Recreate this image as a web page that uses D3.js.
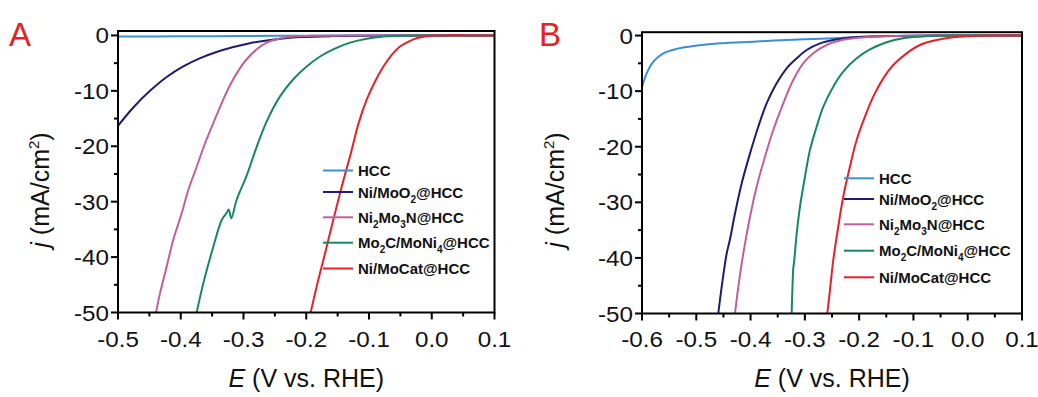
<!DOCTYPE html>
<html><head><meta charset="utf-8">
<script src="https://cdn.jsdelivr.net/npm/d3@7"></script>
<style>body{margin:0;background:#fff}svg{display:block}text{font-family:"Liberation Sans",Arial,sans-serif}</style>
</head><body><div id="chart"></div>
<script>
// ---------- data (E in V vs RHE, j in mA/cm2) ----------
const seriesNames = ["HCC","Ni/MoO2@HCC","Ni2Mo3N@HCC","Mo2C/MoNi4@HCC","Ni/MoCat@HCC"];
const seriesColors = ["#3b8fd2","#1c1c72","#c0609a","#16885c","#e42228"];
const xTicksA = [-0.5,-0.4,-0.3,-0.2,-0.1,0.0,0.1];
const xTicksB = [-0.6,-0.5,-0.4,-0.3,-0.2,-0.1,0.0,0.1];
const yTicks = [0,-10,-20,-30,-40,-50];

// Panel A
const aHCC = [[-0.5,-0.2],[-0.4,-0.15],[-0.3,-0.1],[-0.2,-0.05],[-0.1,-0.02],[0.0,0],[0.1,0]];
const aNiMoO2 = [[-0.5,-16.3],[-0.4756,-13.0],[-0.449,-10.0],[-0.4224,-7.5],[-0.396,-5.6],[-0.369,-4.1],[-0.343,-3.0],[-0.316,-2.1],[-0.29,-1.4],[-0.263,-0.9],[-0.237,-0.55],[-0.21,-0.3],[-0.158,-0.12],[-0.1,-0.04],[0.0,0],[0.1,0]];
const aNi2Mo3N = [[-0.4394,-50],[-0.433,-46.5],[-0.4224,-41.7],[-0.412,-36.9],[-0.3985,-32.1],[-0.388,-27.9],[-0.3746,-23.7],[-0.3614,-19.5],[-0.348,-15.8],[-0.3347,-12.2],[-0.3215,-9.0],[-0.3083,-6.4],[-0.295,-4.3],[-0.279,-2.5],[-0.263,-1.3],[-0.242,-0.55],[-0.2206,-0.2],[-0.18,-0.05],[-0.1,0],[0.1,0]];
const aMo2C = [[-0.3746,-50],[-0.364,-44.7],[-0.348,-38.1],[-0.3347,-33.3],[-0.3268,-32.0],[-0.3235,-31.4],[-0.3195,-33.0],[-0.311,-29.7],[-0.295,-25.3],[-0.279,-20.1],[-0.263,-15.5],[-0.2418,-11.0],[-0.2206,-7.9],[-0.1993,-5.6],[-0.178,-3.8],[-0.157,-2.5],[-0.130,-1.3],[-0.1037,-0.6],[-0.077,-0.2],[-0.05,-0.05],[0.0,0],[0.1,0]];
const aNiMoCat = [[-0.193,-50],[-0.1834,-45.3],[-0.170,-39.3],[-0.157,-33.3],[-0.1435,-27.3],[-0.129,-21.3],[-0.117,-16.0],[-0.1037,-11.6],[-0.0904,-8.3],[-0.077,-5.6],[-0.0638,-3.5],[-0.0506,-2.0],[-0.037,-1.1],[-0.024,-0.5],[-0.008,-0.15],[0.005,0],[0.1,0]];

// Panel B
const bHCC = [[-0.6,-9.3],[-0.5914,-6.8],[-0.579,-4.7],[-0.5608,-3.2],[-0.536,-2.4],[-0.5055,-1.9],[-0.456,-1.4],[-0.395,-1.1],[-0.3335,-0.8],[-0.272,-0.6],[-0.21,-0.3],[-0.15,-0.1],[-0.05,0],[0.1,0]];
const bNiMoO2 = [[-0.4595,-50],[-0.4532,-45.2],[-0.444,-39.2],[-0.438,-36.7],[-0.4287,-32.0],[-0.4164,-26.6],[-0.401,-21.2],[-0.3858,-16.4],[-0.3704,-12.2],[-0.352,-8.6],[-0.3335,-5.9],[-0.315,-4.1],[-0.2967,-2.6],[-0.272,-1.4],[-0.2414,-0.7],[-0.21,-0.3],[-0.15,-0.1],[-0.05,0],[0.1,0]];
const bNi2Mo3N = [[-0.4287,-50],[-0.4226,-45.2],[-0.4134,-39.2],[-0.401,-32.6],[-0.3888,-27.2],[-0.3735,-21.8],[-0.3582,-17.0],[-0.3398,-12.2],[-0.3214,-8.0],[-0.303,-5.0],[-0.2845,-3.2],[-0.26,-1.7],[-0.2354,-0.9],[-0.211,-0.5],[-0.18,-0.2],[-0.12,-0.05],[0.0,0],[0.1,0]];
const bMo2C = [[-0.3243,-50],[-0.3232,-46.4],[-0.3214,-42.0],[-0.3205,-41.2],[-0.3196,-40.5],[-0.315,-35.6],[-0.309,-30.8],[-0.2998,-25.4],[-0.2906,-20.6],[-0.2783,-16.4],[-0.266,-12.8],[-0.2477,-9.2],[-0.2293,-6.5],[-0.2046,-4.1],[-0.180,-2.5],[-0.1494,-1.2],[-0.1188,-0.5],[-0.088,-0.2],[-0.058,-0.05],[0.0,0],[0.1,0]];
const bNiMoCat = [[-0.2587,-50],[-0.2538,-45.8],[-0.2477,-40.4],[-0.2385,-34.4],[-0.2293,-29.0],[-0.217,-23.6],[-0.2046,-18.8],[-0.1893,-14.6],[-0.174,-11.0],[-0.1556,-7.7],[-0.1372,-5.3],[-0.1126,-3.2],[-0.088,-1.7],[-0.0573,-0.8],[-0.0267,-0.3],[0.004,-0.1],[0.05,0],[0.1,0]];

const seriesA = [aHCC,aNiMoO2,aNi2Mo3N,aMo2C,aNiMoCat];
const seriesB = [bHCC,bNiMoO2,bNi2Mo3N,bMo2C,bNiMoCat];

// ---------- drawing ----------
const W = 1038, H = 397;
const svg = d3.select("#chart").append("svg").attr("width", W).attr("height", H);

const panels = [
  {id:"A", label:"A", labelX:9, data:seriesA, xDomain:[-0.5,0.1], xTicks:xTicksA, yDomain:[-50,0.8],
   left:118, right:494.5, top:31, bottom:312.5, yTitleX:49, legX:323, legRows:[170.5,192,217.3,242.7,268.5]},
  {id:"B", label:"B", labelX:539, data:seriesB, xDomain:[-0.6,0.1], xTicks:xTicksB, yDomain:[-50,0.6],
   left:642, right:1022, top:32.2, bottom:313.5, yTitleX:564, legX:844, legRows:[178.3,199,224.3,250.7,277.3]}
];

function fmtX(v){ return (v<0?"-":"") + Math.abs(v).toFixed(1); }

function stretchedText(g, x, y, str, anchor, size, sx){
  const gg = g.append("g").attr("transform", `translate(${x},${y})`);
  gg.append("text").attr("transform", `scale(${sx},1)`)
    .attr("text-anchor", anchor).attr("font-size", size).attr("fill","#111").text(str);
  return gg;
}

function subLabel(textSel, name){
  const parts = name.match(/[A-Za-z@\/]+|\d/g);
  let inSub = false;
  parts.forEach(p=>{
    if (/^\d$/.test(p)) {
      textSel.append("tspan").attr("font-size", 10).attr("dy", 5).text(p);
      inSub = true;
    } else {
      textSel.append("tspan").attr("dy", inSub ? -5 : 0).text(p);
      inSub = false;
    }
  });
}

panels.forEach(P=>{
  const x = d3.scaleLinear().domain(P.xDomain).range([P.left, P.right]);
  const y = d3.scaleLinear().domain(P.yDomain).range([P.bottom, P.top]);
  const g = svg.append("g");

  const clipId = "clip"+P.id;
  svg.append("clipPath").attr("id", clipId).append("rect")
    .attr("x", P.left).attr("y", P.top).attr("width", P.right-P.left).attr("height", P.bottom-P.top);

  const line = d3.line().x(d=>x(d[0])).y(d=>y(d[1])).curve(d3.curveCatmullRom.alpha(0.5));
  g.append("g").attr("clip-path", `url(#${clipId})`).selectAll("path").data(P.data).join("path")
    .attr("d", line).attr("fill","none")
    .attr("stroke", (d,i)=>seriesColors[i]).attr("stroke-width", 2).attr("stroke-linejoin","round");

  g.append("rect").attr("x", P.left).attr("y", P.top).attr("width", P.right-P.left).attr("height", P.bottom-P.top)
    .attr("fill","none").attr("stroke","#000").attr("stroke-width", 2);

  const xMinor = [];
  for (let i=0;i<P.xTicks.length-1;i++) xMinor.push((P.xTicks[i]+P.xTicks[i+1])/2);
  g.selectAll(".xmaj").data(P.xTicks).join("line")
    .attr("x1", d=>x(d)).attr("x2", d=>x(d)).attr("y1", P.bottom).attr("y2", P.bottom+7)
    .attr("stroke","#000").attr("stroke-width",2);
  g.selectAll(".xmin").data(xMinor).join("line")
    .attr("x1", d=>x(d)).attr("x2", d=>x(d)).attr("y1", P.bottom).attr("y2", P.bottom+4)
    .attr("stroke","#000").attr("stroke-width",2);
  P.xTicks.forEach(t=> stretchedText(g, x(t), 347, fmtX(t), "middle", 22, 1.1));

  const yMinor = [];
  for (let i=0;i<yTicks.length-1;i++) yMinor.push((yTicks[i]+yTicks[i+1])/2);
  g.selectAll(".ymaj").data(yTicks).join("line")
    .attr("x1", P.left-7).attr("x2", P.left).attr("y1", d=>y(d)).attr("y2", d=>y(d))
    .attr("stroke","#000").attr("stroke-width",2);
  g.selectAll(".ymin").data(yMinor).join("line")
    .attr("x1", P.left-4).attr("x2", P.left).attr("y1", d=>y(d)).attr("y2", d=>y(d))
    .attr("stroke","#000").attr("stroke-width",2);
  yTicks.forEach(t=> stretchedText(g, P.left-9, y(t)+8, String(t), "end", 22, 1.1));

  const xt = g.append("text").attr("x", (P.left+P.right)/2).attr("y", 387).attr("text-anchor","middle")
    .attr("font-size", 25).attr("fill","#111");
  xt.append("tspan").attr("font-style","italic").text("E");
  xt.append("tspan").text(" (V vs. RHE)");

  const yt = g.append("text").attr("transform", `translate(${P.yTitleX},190) rotate(-90)`)
    .attr("text-anchor","middle").attr("font-size", 25).attr("fill","#111");
  yt.append("tspan").attr("font-style","italic").text("j");
  yt.append("tspan").text(" (mA/cm");
  yt.append("tspan").attr("font-size", 15).attr("dy", -10).text("2");
  yt.append("tspan").attr("dy", 10).text(")");

  g.append("text").attr("x", P.labelX).attr("y", 46).attr("font-size", 33).attr("fill","#e8201e").text(P.label);

  seriesNames.forEach((name,i)=>{
    const ly = P.legRows[i];
    g.append("line").attr("x1", P.legX).attr("x2", P.legX+30).attr("y1", ly).attr("y2", ly)
      .attr("stroke", seriesColors[i]).attr("stroke-width", 2);
    const t = g.append("text").attr("x", P.legX+35).attr("y", ly+5.5)
      .attr("font-size", 15).attr("font-weight","bold").attr("fill","#111");
    subLabel(t, name);
  });
});
</script></body></html>
